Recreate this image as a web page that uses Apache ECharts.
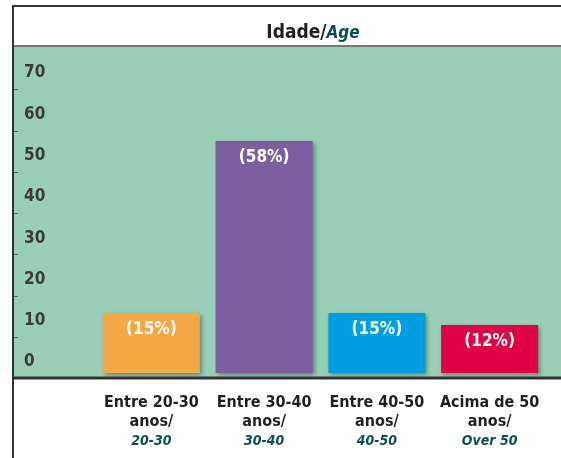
<!DOCTYPE html>
<html>
<head>
<meta charset="utf-8">
<script src="https://cdn.jsdelivr.net/npm/echarts@6/dist/echarts.min.js"></script>
<style>
  html, body { margin: 0; padding: 0; background: #fff; }
  #main { width: 561px; height: 458px; }
</style>
</head>
<body>
<div id="main"></div>
<script>
// dados do gráfico
var categoriasPt = ['Entre 20-30', 'Entre 30-40', 'Entre 40-50', 'Acima de 50'];
var categoriasEn = ['20-30', '30-40', '40-50', 'Over 50'];
var percentuais = [15, 58, 15, 12];
var rotulosEixo = [0, 10, 20, 30, 40, 50, 60, 70];

var corBarras = ['#F4A944', '#7D5EA0', '#009FE0', '#E10046'];
var fonte = '"Liberation Sans Narrow", "DejaVu Sans Condensed", sans-serif';

var chart = echarts.init(document.getElementById('main'), null, { renderer: 'canvas' });

var option = {
    animation: false,
    title: {
        text: '{a|Idade/}{b|Age}',
        left: 308,
        textAlign: 'center',
        top: 19,
        textStyle: {
            rich: {
                a: { fontFamily: fonte, fontSize: 19, fontWeight: 'bold', color: '#231f20' },
                b: { fontFamily: fonte, fontSize: 17, fontWeight: 'bold', fontStyle: 'italic', color: '#0b4f4a' }
            }
        }
    },
    graphic: [
        // fundo verde
        { type: 'rect', z: -10, shape: { x: 14, y: 47, width: 547, height: 331 }, style: { fill: '#99CFB7' } },
        // molduras
        { type: 'line', shape: { x1: 13, y1: 6, x2: 561, y2: 6 }, style: { stroke: '#333', lineWidth: 2 } },
        { type: 'line', shape: { x1: 13, y1: 46, x2: 561, y2: 46 }, style: { stroke: '#777', lineWidth: 2 } },
        { type: 'line', shape: { x1: 13, y1: 5, x2: 13, y2: 458 }, style: { stroke: '#333', lineWidth: 2 } },
        { type: 'line', z: 10, shape: { x1: 13, y1: 378, x2: 561, y2: 378 }, style: { stroke: '#333', lineWidth: 3 } }
    ],
    grid: { left: 95, right: 15, top: 47, bottom: 80 },
    xAxis: {
        type: 'category',
        data: categoriasPt,
        axisLine: { show: false },
        axisTick: { show: false },
        axisLabel: {
            margin: 15,
            interval: 0,
            verticalAlign: 'top',
            formatter: function (v, i) {
                return '{pt|' + v + '}\n{pt|anos/}\n{en|' + categoriasEn[i] + '}';
            },
            rich: {
                pt: { fontFamily: fonte, fontSize: 16, fontWeight: 'bold', color: '#231f20', lineHeight: 19 },
                en: { fontFamily: fonte, fontSize: 14, fontWeight: 'bold', fontStyle: 'italic', color: '#0b4f4a', lineHeight: 21 }
            }
        }
    },
    yAxis: [
        {
            type: 'value',
            min: -1.25,
            max: 81.5,
            show: false
        },
        {
            type: 'value',
            min: -3.9,
            max: 76.3,
            offset: 81,
            position: 'left',
            splitLine: { show: false },
            axisLine: { show: false },
            axisTick: {
                show: true,
                inside: true,
                length: 4,
                customValues: [6, 16, 26, 36, 46, 56, 66],
                lineStyle: { color: '#666', width: 1 }
            },
            axisLabel: {
                inside: true,
                margin: 10,
                align: 'left',
                customValues: rotulosEixo,
                fontFamily: fonte,
                fontSize: 17,
                fontWeight: 'bold',
                color: '#3a3a3a'
            }
        }
    ],
    series: [{
        type: 'bar',
        yAxisIndex: 0,
        barWidth: 97,
        data: percentuais.map(function (v, i) {
            return { value: v, itemStyle: { color: corBarras[i] } };
        }),
        itemStyle: {
            shadowBlur: 4,
            shadowColor: 'rgba(0,0,0,0.35)',
            shadowOffsetX: 2,
            shadowOffsetY: 2
        },
        label: {
            show: true,
            position: 'insideTop',
            distance: 8,
            formatter: function (p) { return '(' + p.value + '%)'; },
            fontFamily: fonte,
            fontSize: 17,
            fontWeight: 'bold',
            color: '#ffffff'
        }
    }]
};

chart.setOption(option);
</script>
</body>
</html>
